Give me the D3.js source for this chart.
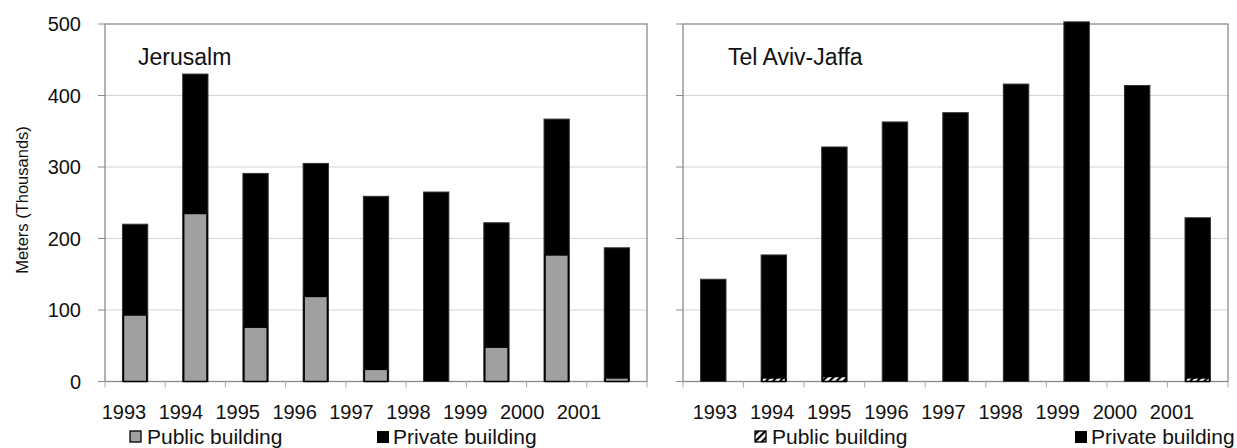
<!DOCTYPE html>
<html>
<head>
<meta charset="utf-8">
<script src="https://cdn.jsdelivr.net/npm/d3@7"></script>
<style>
  body { margin: 0; background: #fff; }
  svg { font-family: "Liberation Sans", Arial, sans-serif; }
</style>
</head>
<body>
<svg id="chart" width="1237" height="448"></svg>
<script>
var width = 1237
var height = 448

var years = ["1993","1994","1995","1996","1997","1998","1999","2000","2001"]
var yTicks = [0, 100, 200, 300, 400, 500]

// Jerusalem (thousand meters)
var jerPublic  = [93, 235, 76, 119, 17, 0, 48, 177, 5]
var jerTotal   = [220, 430, 291, 305, 259, 265, 222, 367, 187]

// Tel Aviv-Jaffa
var tlvPublic  = [0, 5, 7, 0, 0, 0, 0, 0, 5]
var tlvTotal   = [143, 177, 328, 363, 376, 416, 503, 414, 229]

var svg = d3.select("#chart")

var defs = svg.append("defs")
var pat = defs.append("pattern")
    .attr("id", "hatch")
    .attr("patternUnits", "userSpaceOnUse")
    .attr("width", 5)
    .attr("height", 5)
    .attr("patternTransform", "rotate(45)")
pat.append("rect").attr("width", 5).attr("height", 5).attr("fill", "#fff")
pat.append("rect").attr("width", 2.2).attr("height", 5).attr("fill", "#000")

var y = d3.scaleLinear().domain([0, 500]).range([381.5, 24])

function drawPanel(opts) {
    var g = svg.append("g")
    var x = d3.scaleBand()
        .domain(years)
        .range([opts.left, opts.right])
        .paddingInner(0.58)
        .paddingOuter(0.29)
    // category labels sit slightly tighter than the bars in the original
    var xl = d3.scalePoint()
        .domain(years)
        .range(opts.labelRange)

    // gridlines
    g.selectAll(".grid")
        .data(yTicks.filter(d => d > 0 && d < 500))
        .enter().append("line")
        .attr("x1", opts.left).attr("x2", opts.right)
        .attr("y1", d => y(d)).attr("y2", d => y(d))
        .attr("stroke", "#d4d4d4").attr("stroke-width", 1)

    // frame
    g.append("rect")
        .attr("x", opts.left).attr("y", y(500))
        .attr("width", opts.right - opts.left)
        .attr("height", y(0) - y(500))
        .attr("fill", "none")
        .attr("stroke", "#8a8a8a").attr("stroke-width", 1.3)

    // y ticks
    g.selectAll(".ytick")
        .data(yTicks)
        .enter().append("line")
        .attr("x1", opts.left - 7).attr("x2", opts.left)
        .attr("y1", d => y(d)).attr("y2", d => y(d))
        .attr("stroke", "#8a8a8a")

    if (opts.labels) {
        g.selectAll(".ylab")
            .data(yTicks)
            .enter().append("text")
            .attr("x", 81)
            .attr("y", d => y(d) + 7)
            .attr("text-anchor", "end")
            .style("font-size", "20px")
            .attr("fill", "#111")
            .text(d => d)
    }

    // x ticks at category boundaries
    var step = x.step()
    var off = x.paddingOuter() - x.paddingInner() / 2
    var bounds = d3.range(years.length + 1).map(i => opts.left + step * (i + off))
    g.selectAll(".xtick")
        .data(bounds)
        .enter().append("line")
        .attr("x1", d => d).attr("x2", d => d)
        .attr("y1", y(0)).attr("y2", y(0) + 6)
        .attr("stroke", "#aaa")

    g.selectAll(".xlab")
        .data(years)
        .enter().append("text")
        .attr("x", d => xl(d))
        .attr("y", 419)
        .attr("text-anchor", "middle")
        .style("font-size", "20px")
        .attr("fill", "#111")
        .text(d => d)

    // private (total) bars
    g.selectAll(".priv")
        .data(years)
        .enter().append("rect")
        .attr("x", d => x(d))
        .attr("width", x.bandwidth())
        .attr("y", (d, i) => y(opts.total[i]))
        .attr("height", (d, i) => y(0) - y(opts.total[i]))
        .attr("fill", "#000")
        .attr("stroke", "#333").attr("stroke-width", 1)

    // public bars
    g.selectAll(".pub")
        .data(years.filter((d, i) => opts.pub[i] > 0))
        .enter().append("rect")
        .attr("x", d => x(d) + 1)
        .attr("width", x.bandwidth() - 2)
        .attr("y", d => y(opts.pub[years.indexOf(d)]))
        .attr("height", d => y(0) - y(opts.pub[years.indexOf(d)]))
        .attr("fill", opts.pubFill)
        .attr("stroke", "#000").attr("stroke-width", 1.5)

    g.append("text")
        .attr("x", opts.titleX)
        .attr("y", 65)
        .style("font-size", "23px")
        .attr("fill", "#111")
        .text(opts.title)

    // legend
    var lg = g.append("g")
    lg.append("rect")
        .attr("x", opts.leg1).attr("y", 431)
        .attr("width", 11).attr("height", 11)
        .attr("fill", opts.pubFill)
        .attr("stroke", "#000").attr("stroke-width", 1.3)
    lg.append("text")
        .attr("x", opts.leg1 + 17).attr("y", 444)
        .style("font-size", "21px").attr("fill", "#111")
        .text("Public building")
    lg.append("rect")
        .attr("x", opts.leg2).attr("y", 431)
        .attr("width", 12).attr("height", 12)
        .attr("fill", "#000")
    lg.append("text")
        .attr("x", opts.leg2 + 16).attr("y", 444)
        .style("font-size", "21px").attr("fill", "#111")
        .text("Private building")
}

drawPanel({
    left: 105, right: 647, total: jerTotal, pub: jerPublic,
    pubFill: "#a0a0a0", labels: true, title: "Jerusalm", titleX: 138,
    leg1: 130, leg2: 377, labelRange: [124, 579]
})

drawPanel({
    left: 683, right: 1228, total: tlvTotal, pub: tlvPublic,
    pubFill: "url(#hatch)", labels: false, title: "Tel Aviv-Jaffa", titleX: 728,
    leg1: 755, leg2: 1075, labelRange: [715, 1172]
})

svg.append("text")
    .attr("transform", "translate(28,200) rotate(-90)")
    .attr("text-anchor", "middle")
    .style("font-size", "16.5px")
    .attr("fill", "#111")
    .text("Meters (Thousands)")
</script>
</body>
</html>
